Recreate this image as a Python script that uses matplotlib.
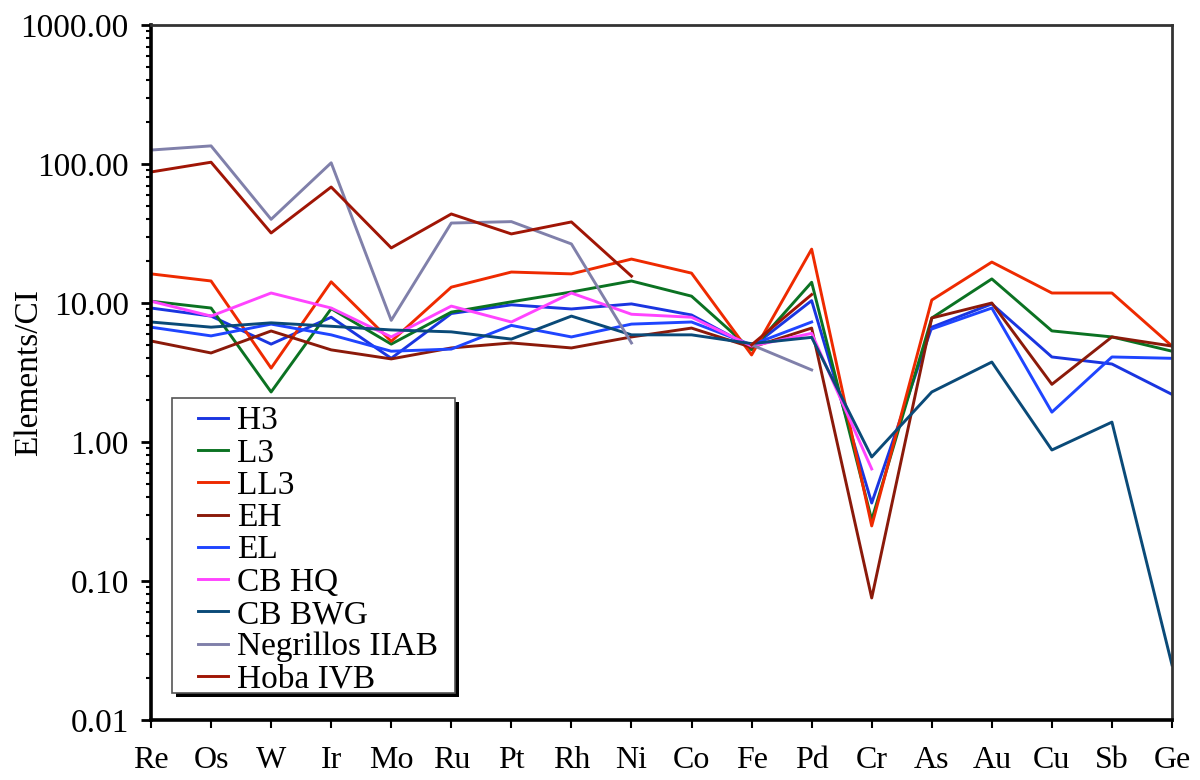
import numpy as np
import matplotlib
matplotlib.use("Agg")
import matplotlib.pyplot as plt
from matplotlib.ticker import LogLocator, FuncFormatter, NullFormatter
from matplotlib.legend_handler import HandlerLine2D
from matplotlib.patches import Rectangle

elements = ["Re", "Os", "W", "Ir", "Mo", "Ru", "Pt", "Rh", "Ni", "Co", "Fe",
            "Pd", "Cr", "As", "Au", "Cu", "Sb", "Ge"]
nan = np.nan

H3 = [9.2, 8.05, 5.06, 7.9, 4.0, 8.4, 9.7, 9.06, 9.85, 8.2, 4.8, 10.4, 0.364,
      6.7, 9.85, 4.09, 3.64, 2.2]
L3 = [10.3, 9.2, 2.29, 9.1, 5.06, 8.6, 10.2, 12.0, 14.4, 11.2, 4.6, 14.1, 0.275,
      7.8, 14.9, 6.3, 5.7, 4.5]
LL3 = [16.2, 14.4, 3.4, 14.2, 5.3, 13.0, 16.7, 16.2, 20.7, 16.4, 4.23, 24.4, 0.249,
       10.5, 19.7, 11.8, 11.8, 4.9]
EH = [5.33, 4.37, 6.29, 4.6, 3.96, 4.75, 5.16, 4.75, 5.7, 6.6, 4.8, 6.6, 0.0755,
      7.8, 10.0, 2.6, 5.7, 4.9]
EL = [6.7, 5.8, 7.05, 5.9, 4.5, 4.66, 6.9, 5.7, 7.05, 7.3, 5.0, 7.3, nan,
      6.5, 9.2, 1.64, 4.09, 4.0]
CB_HQ = [10.3, 8.05, 11.8, 9.2, 5.7, 9.5, 7.3, 11.8, 8.3, 7.9, 4.9, 6.05, 0.64,
         nan, nan, nan, nan, nan]
CB_BWG = [7.3, 6.7, 7.2, 6.8, 6.4, 6.2, 5.5, 8.05, 5.9, 5.9, 5.1, 5.66, 0.78,
          2.29, 3.76, 0.876, 1.39, 0.0249]
Negrillos = [126, 135, 40, 102, 7.5, 37.6, 38.5, 26.6, 5.16, nan, 5.0, 3.3, nan,
             nan, nan, nan, nan, nan]
Hoba = [87.6, 103, 31.9, 68.3, 24.9, 43.7, 31.4, 38.3, 15.6, nan, 5.0, 11.5, nan,
        nan, nan, nan, nan, nan]

series = [
    ("H3", H3, "#1a35e0"),
    ("L3", L3, "#0b7222"),
    ("LL3", LL3, "#ee2a00"),
    ("EH", EH, "#8b1a0a"),
    ("EL", EL, "#1f45ff"),
    ("CB HQ", CB_HQ, "#ff44ff"),
    ("CB BWG", CB_BWG, "#0a4a78"),
    ("Negrillos IIAB", Negrillos, "#8080aa"),
    ("Hoba IVB", Hoba, "#a01505"),
]

plt.rcParams['font.family'] = ['Liberation Serif', 'DejaVu Serif']

W, H = 1200, 780
fig = plt.figure(figsize=(12, 7.8), dpi=100)
ax = fig.add_axes([151/W, 1-720/H, (1172-151)/W, (720-25)/H])

x = np.arange(len(elements))
for name, vals, col in series:
    ax.plot(x, np.array(vals, dtype=float), color=col, lw=2.1, label=name)

ax.set_yscale('log')
ax.set_ylim(0.01, 1000)
ax.set_xlim(0, len(elements)-1)
ax.set_xticks(x)
ax.set_xticklabels(elements, fontsize=23)
ax.yaxis.set_major_locator(LogLocator(base=10, numticks=10))
ax.yaxis.set_minor_locator(LogLocator(base=10, subs=np.arange(2, 10), numticks=20))
ax.yaxis.set_major_formatter(FuncFormatter(lambda v, p: f"{v:.2f}"))
ax.yaxis.set_minor_formatter(NullFormatter())
ax.tick_params(axis='y', which='major', labelsize=24, length=7, width=2, direction='out', pad=9)
ax.tick_params(axis='y', which='minor', length=3.6, width=1.5, direction='out')
ax.tick_params(axis='x', which='major', length=6, width=1.5, direction='out', pad=13)
ax.set_ylabel("Elements/CI", fontsize=24)
ax.yaxis.set_label_coords(-0.1048, 0.5)

for s in ['left', 'bottom']:
    ax.spines[s].set_linewidth(2.6)
    ax.spines[s].set_color('black')
for s in ['top', 'right']:
    ax.spines[s].set_linewidth(2.0)
    ax.spines[s].set_color('#333333')


class ShiftedLine(HandlerLine2D):
    shift = 12.0  # pixels

    def create_artists(self, legend, orig_handle, xdescent, ydescent,
                       width, height, fontsize, trans):
        return super().create_artists(legend, orig_handle, xdescent - self.shift,
                                      ydescent, width - self.shift, height,
                                      fontsize, trans)


# legend frame with solid shadow (pixel box 172..455 x 398..693)
bx0, by0, bw, bh = 172/W, 1-693/H, 283/W, 295/H
shadow = Rectangle((bx0 + 3.5/W, by0 - 3.5/H), bw, bh, transform=fig.transFigure,
                   facecolor='black', edgecolor='none', zorder=4.4, clip_on=False)
frame = Rectangle((bx0, by0), bw, bh, transform=fig.transFigure,
                  facecolor='white', edgecolor='#555555', lw=1.2, zorder=4.5,
                  clip_on=False)
ax.add_artist(shadow)
ax.add_artist(frame)

leg = ax.legend(loc='lower left', bbox_to_anchor=((178-151)/1021, (720-698)/695),
                fontsize=24, handlelength=1.41, handletextpad=0.27,
                labelspacing=0.054, borderpad=0.1, frameon=False,
                borderaxespad=0, handler_map={plt.Line2D: ShiftedLine()})
leg.set_zorder(5)
for h in leg.get_lines():
    h.set_linewidth(2.1)

fig.savefig("out.png", dpi=100)
